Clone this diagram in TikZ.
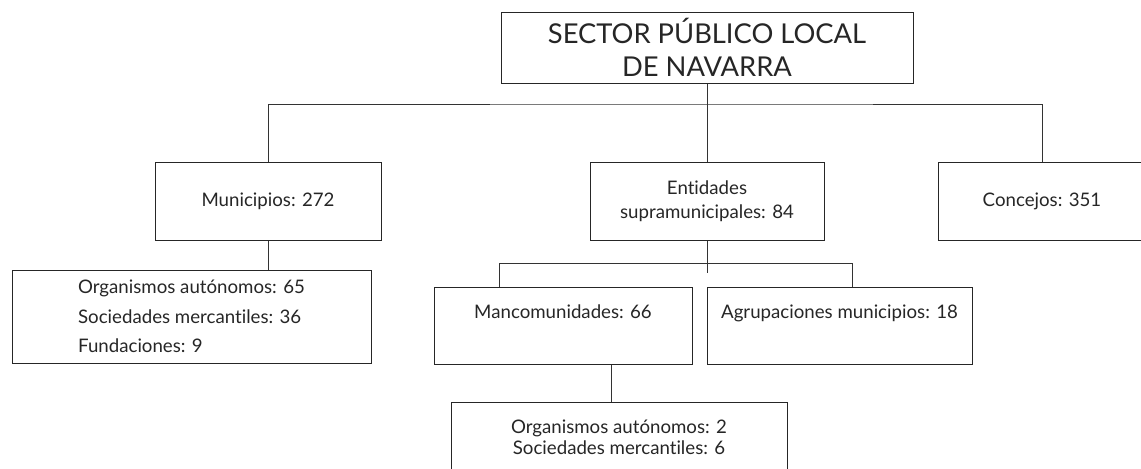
\documentclass[tikz,border=0pt]{standalone}
\usepackage{fontspec}
\setmainfont{Lato}[Ligatures={NoCommon}]

\begin{document}
\begin{tikzpicture}[x=0.75pt,y=-0.75pt,line width=0.75pt,
  caja/.style 2 args={draw=black!85,inner sep=0pt,align=center,text=black!85,
    minimum width=#1*0.75pt,minimum height=#2*0.75pt,font=\fontsize{14}{18}\selectfont},
  enlace/.style={draw=black!80}]
  \useasboundingbox (0,0) rectangle (1141,468);
  % ===== raiz =====
  \node[caja={412}{71},font=\fontsize{20.5}{24.75}\selectfont] (raiz) at (707,47.5)
    {SECTOR PÚBLICO LOCAL\\DE NAVARRA};
  % ===== primer nivel =====
  \node[caja={226}{78}] (muni) at (268,201) {Municipios: 272};
  \node[caja={234}{78}] (enti) at (707,201) {Entidades\\supramunicipales: 84};
  \node[caja={208}{78}] (conc) at (1042,201) {Concejos: 351};
  % ===== dependientes =====
  \node[caja={359}{93},align=left,font=\fontsize{14}{22}\selectfont] (orgmuni) at (191.5,316.5)
    {Organismos autónomos: 65\\Sociedades mercantiles: 36\\Fundaciones: 9};
  \node[caja={258}{77},text height=23.75pt,text depth=34pt] (manc) at (563,325.5) {Mancomunidades: 66};
  \node[caja={265}{77},text height=23.75pt,text depth=34pt] (agru) at (839.5,325.5) {Agrupaciones municipios: 18};
  \node[caja={336}{71},font=\fontsize{14}{15.75}\selectfont] (orgmanc) at (619,437.5)
    {Organismos autónomos: 2\\Sociedades mercantiles: 6};
  % ===== enlaces =====
  \coordinate (bus) at (707,104);
  \draw[enlace] (raiz.south) -- (bus);
  \draw[enlace] (muni.north) |- (bus) -| (conc.north);
  \draw[enlace] (bus) -- (enti.north);
  \draw[enlace] (muni.south) -- (muni.south |- orgmuni.north);
  % subdivision de entidades
  \coordinate (subL) at (499,263);
  \coordinate (subR) at (852,263);
  \coordinate (stub) at (707,273);
  \draw[enlace] (enti.south) -- (stub);
  \draw[enlace] (subL |- manc.north) -- (subL) -- (subR) -- (subR |- agru.north);
  \coordinate (mdrop) at (611,380);
  \draw[enlace] (manc.south -| mdrop) -- (orgmanc.north -| mdrop);
\end{tikzpicture}
\end{document}
